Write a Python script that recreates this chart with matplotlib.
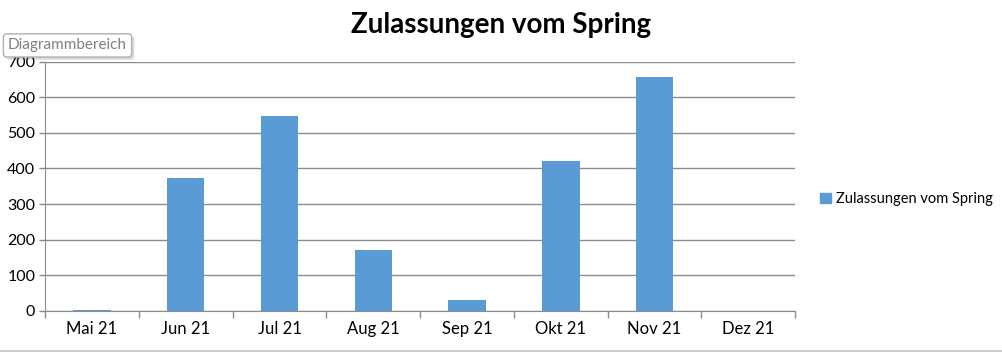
import numpy as np
import matplotlib.pyplot as plt
from matplotlib.patches import Patch
import matplotlib.patheffects as pe

plt.rcParams['font.family'] = ['Lato', 'DejaVu Sans']

# Daten
monate = ['Mai 21', 'Jun 21', 'Jul 21', 'Aug 21', 'Sep 21', 'Okt 21', 'Nov 21', 'Dez 21']
zulassungen = [3, 373, 548, 172, 31, 421, 658, 0]
y_ticks = [0, 100, 200, 300, 400, 500, 600, 700]

bar_color = '#5B9BD5'
grid_color = '#8c8c8c'

fig = plt.figure(figsize=(10.03, 3.55), dpi=100)
ax = fig.add_axes([0.0449, 0.124, 0.748, 0.7025])

x = np.arange(len(monate))
ax.bar(x, zulassungen, width=0.4, color=bar_color, zorder=3)

ax.set_xlim(-0.5, len(monate) - 0.5)
ax.set_ylim(0, 700)
ax.set_yticks(y_ticks)
ax.tick_params(axis='y', length=4, width=1, color=grid_color, labelsize=11.5, pad=3)
ax.yaxis.grid(True, color=grid_color, linewidth=1, zorder=0)

# x-Achse: Striche zwischen den Kategorien
ax.set_xticks(x)
ax.set_xticklabels(monate, fontsize=12)
ax.set_xticks(np.arange(len(monate) + 1) - 0.5, minor=True)
ax.tick_params(axis='x', which='major', length=0, pad=7)
ax.tick_params(axis='x', which='minor', length=5, width=1, color=grid_color)

for s in ['top', 'right']:
    ax.spines[s].set_visible(False)
ax.spines['left'].set_color(grid_color)
ax.spines['bottom'].set_color(grid_color)

fig.text(0.5, 0.93, 'Zulassungen vom Spring', ha='center', va='center',
         fontsize=20, fontweight='bold')

# Legende
fig.legend(handles=[Patch(color=bar_color, label='Zulassungen vom Spring')],
           loc='center left', bbox_to_anchor=(0.818, 0.44), frameon=False,
           fontsize=10.5, handlelength=0.7, handleheight=0.7, handletextpad=0.4,
           borderaxespad=0, borderpad=0)

# Tooltip "Diagrammbereich"
tip = fig.text(0.008, 0.872, 'Diagrammbereich', ha='left', va='center', fontsize=11,
               color='#808080',
               bbox=dict(boxstyle='round,pad=0.3,rounding_size=0.2', fc='white',
                         ec='#b0b0b0', lw=1))
tip.get_bbox_patch().set_path_effects([pe.SimplePatchShadow(offset=(2, -2), alpha=0.2),
                                       pe.Normal()])

# untere Fensterkante
fig.add_artist(plt.Line2D([0, 1], [0.012, 0.012], color='#cccccc', lw=1.5))

fig.savefig('out.png', dpi=100)
